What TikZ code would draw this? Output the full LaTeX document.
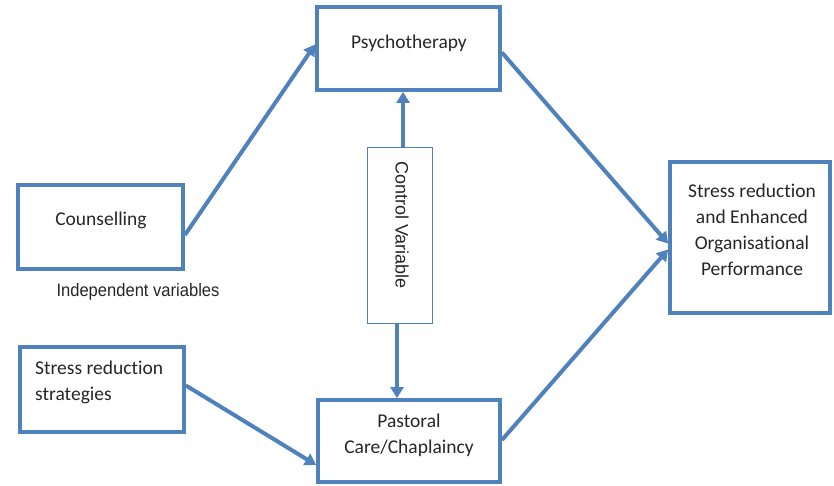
\documentclass[tikz,border=0pt]{standalone}
\usepackage{fontspec}
\setmainfont{Carlito}[Ligatures=NoCommon]
\newfontfamily\arialf{Liberation Sans}
\usetikzlibrary{arrows.meta,calc}
\definecolor{boxblue}{HTML}{4F81BD}
\definecolor{txt}{HTML}{262626}
\tikzset{
  bbox/.style={draw=boxblue, line width=3.8pt, minimum width=#1, inner sep=0pt},
  lbl/.style={text=txt, font=\fontsize{19.5}{26}\selectfont, align=center, inner sep=0pt},
  conn/.style={draw=boxblue, line width=4pt, -{Triangle[length=11pt,width=13pt]}},
}
\begin{document}
\begin{tikzpicture}[x=1pt,y=-1pt]
\useasboundingbox (0,0) rectangle (834,485);
% boxes
\node[bbox=183pt, minimum height=83pt] (psy) at (408.5,48.5) {};
\node[bbox=165pt, minimum height=84pt] (couns) at (100.5,227) {};
\node[bbox=164pt, minimum height=85pt] (strat) at (102,389.5) {};
\node[bbox=182pt, minimum height=82pt] (past) at (409,441) {};
\node[bbox=160pt, minimum height=151pt] (out) at (750,237.5) {};
\node[draw=boxblue, line width=0.8pt, minimum width=65pt, minimum height=176pt, inner sep=0pt] (ctrl) at (399.5,235) {};
% texts
\node[lbl] (psyt) at (409,43) {Psychotherapy};
\node[lbl] (counst) at (101,220) {Counselling};
\node[lbl, align=left, anchor=west] (stratt) at (35,382) {Stress reduction\\strategies};
\node[lbl] (pastt) at (409,435) {Pastoral\\Care/Chaplaincy};
\node[lbl] (outt) at (752,230) {Stress reduction\\and Enhanced\\Organisational\\Performance};
\node[text=txt, font=\arialf\fontsize{18}{18}\selectfont, xscale=0.92, inner sep=0pt] (indep) at (138,292) {Independent variables};
\node[text=txt, font=\arialf\fontsize{18}{18}\selectfont, rotate=-90, inner sep=0pt] (ctrlt) at (402,225) {Control Variable};
% connectors
\draw[conn] ([yshift=-8pt]couns.east) -- ([yshift=4pt]psy.west);
\draw[conn] ([yshift=-4pt]psy.east) -- ([yshift=-6pt]out.west);
\draw[conn] ([yshift=1pt]past.east) -- ([yshift=-12pt]out.west);
\draw[conn] ([yshift=4pt]strat.east) -- ([yshift=-24pt]past.west);
\draw[conn] ([xshift=3.5pt]ctrl.north) -- ([xshift=-5.5pt]psy.south);
\draw[conn] ([xshift=-2.5pt]ctrl.south) -- ([xshift=-12pt]past.north);
\end{tikzpicture}
\end{document}
